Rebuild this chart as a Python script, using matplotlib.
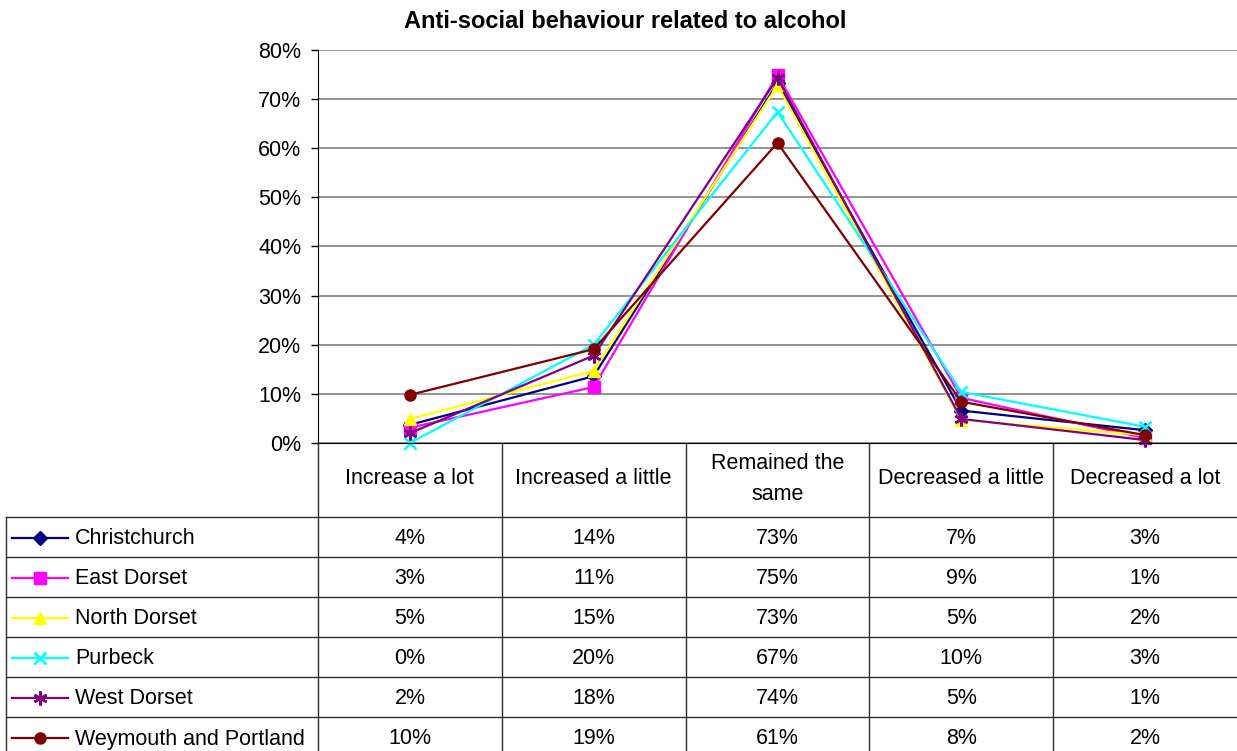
import matplotlib
matplotlib.use("Agg")
import matplotlib.pyplot as plt
from matplotlib.ticker import PercentFormatter

plt.rcParams["font.family"] = ["Liberation Sans", "DejaVu Sans"]

# -------- data --------
CATEGORIES = ["Increase a lot", "Increased a little", "Remained the\nsame",
              "Decreased a little", "Decreased a lot"]
SERIES = ["Christchurch", "East Dorset", "North Dorset", "Purbeck",
          "West Dorset", "Weymouth and Portland"]
christchurch = [3.7, 13.6, 73.3, 6.6, 2.6]
east_dorset = [3.1, 11.4, 74.9, 9.2, 1.0]
north_dorset = [4.9, 14.7, 72.8, 4.7, 1.6]
purbeck = [0.0, 20.0, 67.4, 10.4, 3.3]
west_dorset = [2.0, 17.8, 74.3, 4.9, 0.6]
weymouth = [9.8, 19.1, 61.1, 8.4, 1.6]
VALUES = [christchurch, east_dorset, north_dorset, purbeck, west_dorset, weymouth]

# -------- style --------
COLORS = ["#000080", "#FF00FF", "#FFFF00", "#00FFFF", "#800080", "#800000"]
MARKERS = ["D", "s", "^", "x", (6, 2, 0), "o"]
MSIZES = [7, 8, 9, 9, 10, 8]
FS = 15.5
W, H = 1237, 751

# layout in pixels
PLOT_L, PLOT_R = 318, 1237
PLOT_T, PLOT_B = 50, 443
HEAD_B = 517
ROW_H = 40
LEG_L = 6

fig = plt.figure(figsize=(W / 100, H / 100), dpi=100)

ax = fig.add_axes([PLOT_L / W, 1 - PLOT_B / H, (PLOT_R - PLOT_L) / W,
                   (PLOT_B - PLOT_T) / H])
x = list(range(len(CATEGORIES)))
for vals, c, m, ms in zip(VALUES, COLORS, MARKERS, MSIZES):
    ax.plot(x, vals, color=c, lw=1.6, marker=m, ms=ms, mec=c, mfc=c,
            mew=1.8 if m in ("x", (6, 2, 0)) else 1, clip_on=False)

ax.set_xlim(-0.5, len(CATEGORIES) - 0.5)
ax.set_ylim(0, 80)
ax.set_yticks(range(0, 81, 10))
ax.yaxis.set_major_formatter(PercentFormatter(decimals=0))
ax.set_xticks([])
ax.grid(axis="y", color="#808080", lw=1.2)
ax.set_axisbelow(True)
for s in ["top", "right"]:
    ax.spines[s].set_visible(False)
ax.spines["left"].set_color("black")
ax.spines["bottom"].set_color("black")
ax.tick_params(axis="y", length=5, width=1, pad=7, labelsize=FS)
ax.set_facecolor("none")

fig.text((405 + 845) / 2 / W, 1 - 21 / H, "Anti-social behaviour related to alcohol",
         ha="center", va="center", fontsize=17, fontweight="bold")

# -------- data table --------
tab = fig.add_axes([0, 0, 1, 1], zorder=-1)
tab.set_xlim(0, W)
tab.set_ylim(H, 0)
tab.axis("off")
LC = "#303030"
col_w = (PLOT_R - PLOT_L) / len(CATEGORIES)

# vertical lines
for i in range(len(CATEGORIES)):
    xb = PLOT_L + i * col_w
    tab.plot([xb, xb], [PLOT_B, H + 5], color=LC, lw=1)
tab.plot([LEG_L, LEG_L], [HEAD_B, H + 5], color=LC, lw=1)
# horizontal lines
for r in range(len(SERIES)):
    yb = HEAD_B + r * ROW_H
    tab.plot([LEG_L, W], [yb, yb], color=LC, lw=1)

# header
for i, cat in enumerate(CATEGORIES):
    tab.text(PLOT_L + (i + 0.5) * col_w, (PLOT_B + HEAD_B) / 2 - 1, cat,
             ha="center", va="center", fontsize=FS, linespacing=1.6)

# rows
for r, (name, vals, c, m, ms) in enumerate(zip(SERIES, VALUES, COLORS, MARKERS, MSIZES)):
    yc = HEAD_B + (r + 0.5) * ROW_H
    tab.plot([12, 68], [yc + 1, yc + 1], color=c, lw=1.6)
    tab.plot([40], [yc + 1], color=c, marker=m, ms=ms, mec=c, mfc=c,
             mew=1.8 if m in ("x", (6, 2, 0)) else 1)
    tab.text(75, yc + 2, name, ha="left", va="center", fontsize=FS)
    for i, v in enumerate(vals):
        tab.text(PLOT_L + (i + 0.5) * col_w, yc + 2, f"{round(v):d}%",
                 ha="center", va="center", fontsize=FS)

fig.savefig("out.png", dpi=100)
